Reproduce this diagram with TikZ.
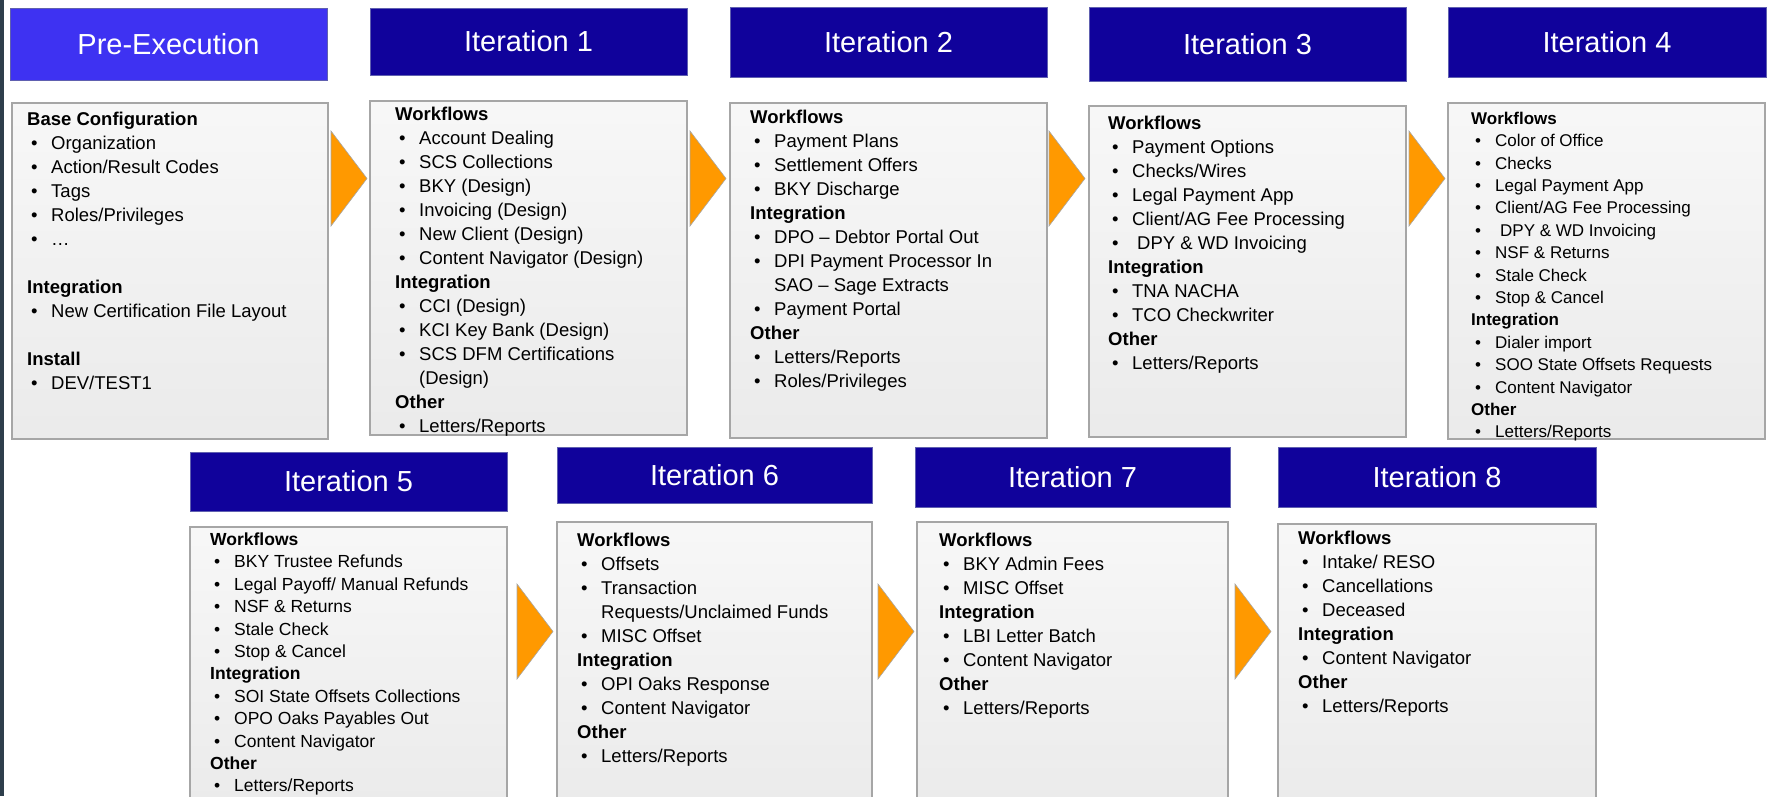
\documentclass[tikz,border=0pt]{standalone}
\usepackage{fontspec}
\setmainfont{Liberation Sans}
\usetikzlibrary{fit}

\definecolor{preblue}{RGB}{62,50,242}
\definecolor{itblue}{RGB}{16,2,155}
\definecolor{hdline}{RGB}{96,96,176}
\definecolor{boxline}{RGB}{166,166,166}
\definecolor{chevfill}{RGB}{255,153,0}
\definecolor{slate}{RGB}{46,62,76}

\tikzset{
  hdr/.style={draw=hdline, line width=1pt, fill=itblue, text=white, inner sep=0pt,
    minimum width=317pt, font=\fontsize{29}{34}\selectfont},
  body/.style={draw=boxline, line width=1.5pt, top color=gray!6, bottom color=gray!16, inner sep=0pt},
  lst/.style={anchor=north west, inner sep=0pt, align=left, font=\fontsize{18.5}{24}\selectfont},
  chev/.style={fill=chevfill, draw=gray!70, line width=0.6pt}
}

% list helpers: heading, bullet item, wrapped line
\newcommand{\hd}[1]{\strut\textbf{#1}}
\newcommand{\itm}[1]{\hspace*{4pt}\makebox[20pt][l]{\textbullet}#1}
\newcommand{\cnt}[1]{\hspace*{24pt}#1}

\begin{document}
\begin{tikzpicture}[x=1pt,y=-1pt]
\useasboundingbox (0,0) rectangle (1767,796);
\clip (0,0) rectangle (1767,796);
\fill[slate] (0,0) rectangle (3.5,796);

% headers
\node[hdr, fill=preblue, minimum height=72pt] (preh) at (168.5,44) {Pre-Execution};
\node[hdr, minimum height=67pt] (it1h) at (528.5,41.5) {Iteration 1};
\node[hdr, minimum height=70pt] (it2h) at (888.5,42) {Iteration 2};
\node[hdr, minimum height=74pt] (it3h) at (1247.5,44) {Iteration 3};
\node[hdr, minimum width=318pt, minimum height=70pt] (it4h) at (1607,42) {Iteration 4};
\node[hdr, minimum height=59pt] (it5h) at (348.5,481.5) {Iteration 5};
\node[hdr, minimum width=315pt, minimum height=56pt] (it6h) at (714.5,475) {Iteration 6};
\node[hdr, minimum width=315pt, minimum height=60pt] (it7h) at (1072.5,477) {Iteration 7};
\node[hdr, minimum width=318pt, minimum height=60pt] (it8h) at (1437,477) {Iteration 8};

% content boxes
\node[body, fit={(12,103) (328,439)}] (preb) {};
\node[body, fit={(370,101) (687,435)}] (it1b) {};
\node[body, fit={(730,103) (1047,438)}] (it2b) {};
\node[body, fit={(1089,106) (1406,437)}] (it3b) {};
\node[body, fit={(1448,103) (1765,439)}] (it4b) {};
\node[body, fit={(190,527) (507,810)}] (it5b) {};
\node[body, fit={(557,522) (872,810)}] (it6b) {};
\node[body, fit={(917,522) (1228,810)}] (it7b) {};
\node[body, fit={(1278,524) (1596,810)}] (it8b) {};

% orange chevrons between stages
\foreach \x/\y in {331/131, 690/131, 1049/131, 1409/131, 517/584, 878/584, 1235/584}
  \draw[chev] (\x,\y) -- ++(36,47.5) -- ++(-36,47.5) -- cycle;

\node[lst] (pret) at (27,108.8) {\hd{Base Configuration}\\
  \itm{Organization}\\ \itm{Action/Result Codes}\\ \itm{Tags}\\
  \itm{Roles/Privileges}\\ \itm{\dots}\\[24pt]
  \hd{Integration}\\ \itm{New Certification File Layout}\\[24pt]
  \hd{Install}\\ \itm{DEV/TEST1}};

\node[lst] (it1t) at (395,103.8) {\hd{Workflows}\\
  \itm{Account Dealing}\\ \itm{SCS Collections}\\ \itm{BKY (Design)}\\
  \itm{Invoicing (Design)}\\ \itm{New Client (Design)}\\ \itm{Content Navigator (Design)}\\
  \hd{Integration}\\ \itm{CCI (Design)}\\ \itm{KCI Key Bank (Design)}\\
  \itm{SCS DFM Certifications}\\ \cnt{(Design)}\\
  \hd{Other}\\ \itm{Letters/Reports}};

\node[lst] (it2t) at (750,106.8) {\hd{Workflows}\\
  \itm{Payment Plans}\\ \itm{Settlement Offers}\\ \itm{BKY Discharge}\\
  \hd{Integration}\\ \itm{DPO -- Debtor Portal Out}\\ \itm{DPI Payment Processor In}\\
  \cnt{SAO -- Sage Extracts}\\ \itm{Payment Portal}\\
  \hd{Other}\\ \itm{Letters/Reports}\\ \itm{Roles/Privileges}};

\node[lst] (it3t) at (1108,112.8) {\hd{Workflows}\\
  \itm{Payment Options}\\ \itm{Checks/Wires}\\ \itm{Legal Payment App}\\
  \itm{Client/AG Fee Processing}\\ \itm{\hspace*{5pt}DPY \& WD Invoicing}\\
  \hd{Integration}\\ \itm{TNA NACHA}\\ \itm{TCO Checkwriter}\\
  \hd{Other}\\ \itm{Letters/Reports}};

\node[lst, font=\fontsize{17}{22.4}\selectfont] (it4t) at (1471,108.4) {\hd{Workflows}\\
  \itm{Color of Office}\\ \itm{Checks}\\ \itm{Legal Payment App}\\
  \itm{Client/AG Fee Processing}\\ \itm{\hspace*{5pt}DPY \& WD Invoicing}\\
  \itm{NSF \& Returns}\\ \itm{Stale Check}\\ \itm{Stop \& Cancel}\\
  \hd{Integration}\\ \itm{Dialer import}\\ \itm{SOO State Offsets Requests}\\
  \itm{Content Navigator}\\
  \hd{Other}\\ \itm{Letters/Reports}};

\node[lst, font=\fontsize{17.5}{22.4}\selectfont] (it5t) at (210,529.6) {\hd{Workflows}\\
  \itm{BKY Trustee Refunds}\\ \itm{Legal Payoff/ Manual Refunds}\\
  \itm{NSF \& Returns}\\ \itm{Stale Check}\\ \itm{Stop \& Cancel}\\
  \hd{Integration}\\ \itm{SOI State Offsets Collections}\\
  \itm{OPO Oaks Payables Out}\\ \itm{Content Navigator}\\
  \hd{Other}\\ \itm{Letters/Reports}};

\node[lst] (it6t) at (577,529.8) {\hd{Workflows}\\
  \itm{Offsets}\\ \itm{Transaction}\\ \cnt{Requests/Unclaimed Funds}\\
  \itm{MISC Offset}\\
  \hd{Integration}\\ \itm{OPI Oaks Response}\\ \itm{Content Navigator}\\
  \hd{Other}\\ \itm{Letters/Reports}};

\node[lst] (it7t) at (939,529.8) {\hd{Workflows}\\
  \itm{BKY Admin Fees}\\ \itm{MISC Offset}\\
  \hd{Integration}\\ \itm{LBI Letter Batch}\\ \itm{Content Navigator}\\
  \hd{Other}\\ \itm{Letters/Reports}};

\node[lst] (it8t) at (1298,527.8) {\hd{Workflows}\\
  \itm{Intake/ RESO}\\ \itm{Cancellations}\\ \itm{Deceased}\\
  \hd{Integration}\\ \itm{Content Navigator}\\
  \hd{Other}\\ \itm{Letters/Reports}};
\end{tikzpicture}
\end{document}
